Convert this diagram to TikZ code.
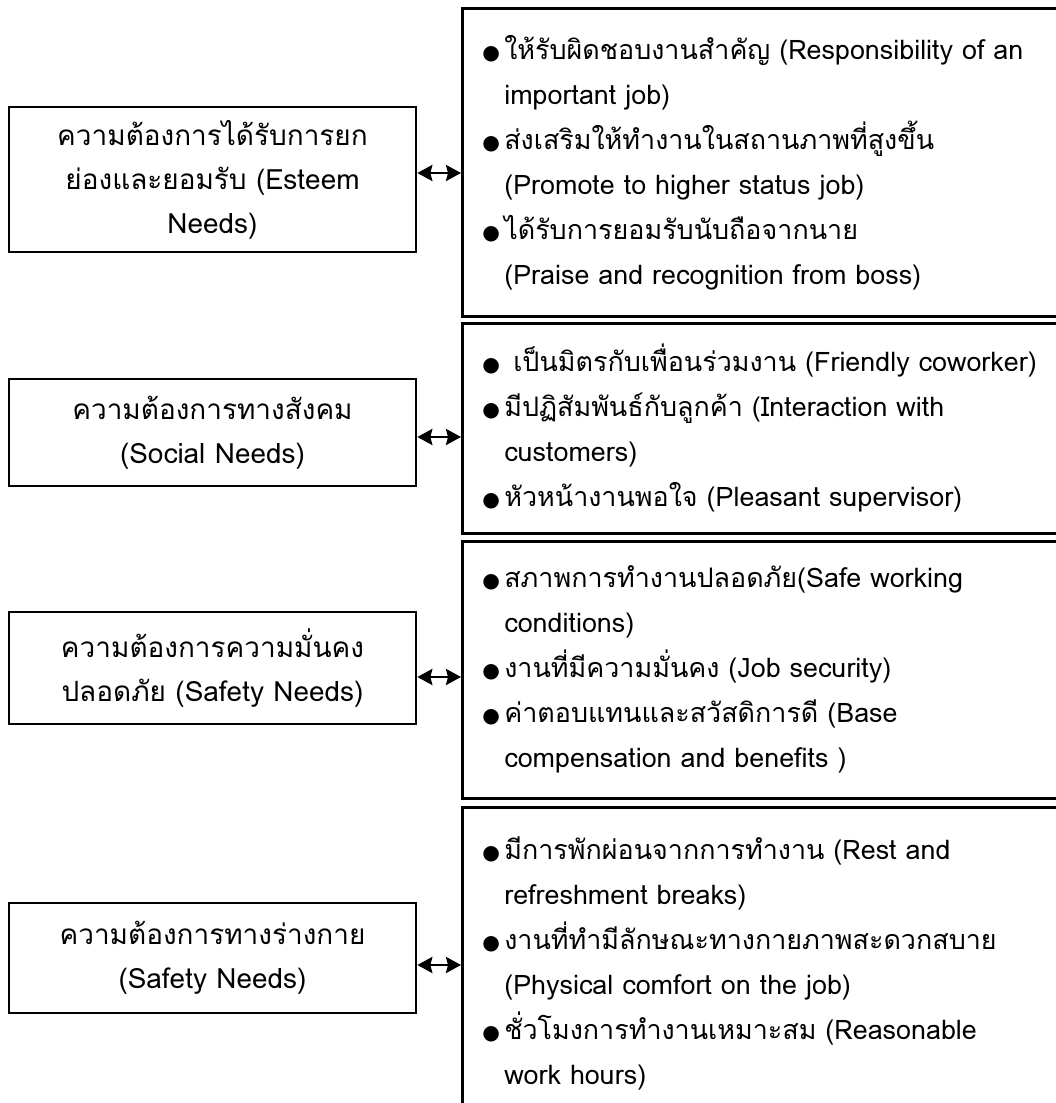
\documentclass[tikz,border=0pt]{standalone}
\usepackage{fontspec}
\setmainfont[Script=Thai]{Loma}
\newfontfamily\symfont{DejaVu Sans}
\usetikzlibrary{arrows.meta,calc,positioning}

\tikzset{
  needbox/.style={draw,line width=1.5pt,minimum width=8.14cm,align=center,
    font=\fontsize{15.9}{25}\selectfont},
  itembox/.style={draw,line width=1.5pt,anchor=north west,minimum width=12.4cm,
    text width=11.6cm,inner xsep=0.4cm,align=left,
    font=\fontsize{15.3}{25.6}\selectfont},
  link/.style={<->,line width=1.5pt}
}
\newcommand\bul{\makebox[0.44cm][l]{\symfont\fontsize{11.5}{11.5}\selectfont ●}}
\newcommand\ind{\hspace*{0.44cm}}

\begin{document}
\begin{tikzpicture}[>={Stealth[length=3mm,width=3.2mm,inset=0.4mm]}]
\useasboundingbox (0,0) rectangle (21.1,22.06);

% needs, left column
\node[needbox,minimum height=2.9cm] (L1) at (4.25,18.47)
  {ความต้องการได้รับการยก\\ย่องและยอมรับ (Esteem\\Needs)};
\node[needbox,minimum height=2.14cm] (L2) at (4.25,13.41)
  {ความต้องการทางสังคม\\(Social Needs)};
\node[needbox,minimum height=2.24cm] (L3) at (4.25,8.70)
  {ความต้องการความมั่นคง\\ปลอดภัย (Safety Needs)};
\node[needbox,minimum height=2.2cm] (L4) at (4.25,2.90)
  {ความต้องการทางร่างกาย\\(Safety Needs)};

% job factors, right column
\node[itembox,minimum height=6.16cm] (R1) at (9.22,21.92)
  {\bul ให้รับผิดชอบงานสำคัญ (Responsibility of an\\
   \ind important job)\\
   \bul ส่งเสริมให้ทำงานในสถานภาพที่สูงขึ้น\\
   \ind (Promote to higher status job)\\
   \bul ได้รับการยอมรับนับถือจากนาย\\
   \ind (Praise and recognition from boss)};
\node[itembox,minimum height=4.2cm] (R2) at (9.22,15.62)
  {\bul\ เป็นมิตรกับเพื่อนร่วมงาน (Friendly coworker)\\
   \bul มีปฏิสัมพันธ์กับลูกค้า (Interaction with\\
   \ind customers)\\
   \bul หัวหน้างานพอใจ (Pleasant supervisor)};
\node[itembox,minimum height=5.14cm] (R3) at (9.22,11.26)
  {\bul สภาพการทำงานปลอดภัย(Safe working\\
   \ind conditions)\\
   \bul งานที่มีความมั่นคง (Job security)\\
   \bul ค่าตอบแทนและสวัสดิการดี (Base\\
   \ind compensation and benefits )};
\node[itembox,minimum height=6.24cm] (R4) at (9.22,5.94)
  {\bul มีการพักผ่อนจากการทำงาน (Rest and\\
   \ind refreshment breaks)\\
   \bul งานที่ทำมีลักษณะทางกายภาพสะดวกสบาย\\
   \ind (Physical comfort on the job)\\
   \bul ชั่วโมงการทำงานเหมาะสม (Reasonable\\
   \ind work hours)};

% links
\foreach \i/\dy in {1/0.13,2/-0.09,3/-0.18,4/-0.14}
  \draw[link] ([yshift=\dy cm]L\i.east) coordinate (a\i) -- (a\i -| R\i.west);
\end{tikzpicture}
\end{document}
